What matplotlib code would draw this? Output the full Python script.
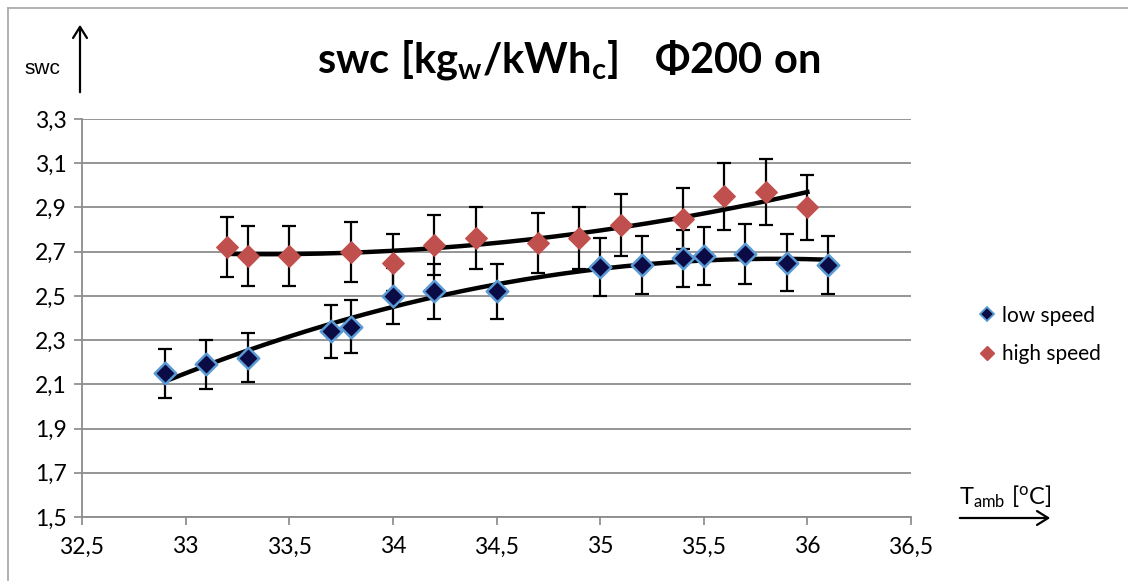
import numpy as np
import matplotlib
matplotlib.use("Agg")
import matplotlib.pyplot as plt
from matplotlib.lines import Line2D
from matplotlib.patches import FancyArrowPatch
from matplotlib.ticker import FuncFormatter

plt.rcParams['font.family'] = ['Lato', 'DejaVu Sans']
plt.rcParams['mathtext.fontset'] = 'custom'
plt.rcParams['mathtext.rm'] = 'Lato'
plt.rcParams['mathtext.it'] = 'Lato'
plt.rcParams['mathtext.bf'] = 'Lato:bold'

# measured points, T_amb [C] vs swc
t_low = [32.9, 33.1, 33.3, 33.7, 33.8, 34.0, 34.2, 34.5, 35.0, 35.2, 35.4, 35.5, 35.7, 35.9, 36.1]
swc_low = [2.15, 2.19, 2.22, 2.34, 2.36, 2.50, 2.52, 2.52, 2.63, 2.64, 2.67, 2.68, 2.69, 2.65, 2.64]
err_low = [0.11, 0.11, 0.11, 0.12, 0.12, 0.125, 0.125, 0.125, 0.13, 0.13, 0.13, 0.13, 0.135, 0.13, 0.13]

t_high = [33.2, 33.3, 33.5, 33.8, 34.0, 34.2, 34.4, 34.7, 34.9, 35.1, 35.4, 35.6, 35.8, 36.0]
swc_high = [2.72, 2.68, 2.68, 2.70, 2.65, 2.73, 2.76, 2.74, 2.76, 2.82, 2.85, 2.95, 2.97, 2.90]
err_high = [0.135, 0.135, 0.135, 0.135, 0.13, 0.135, 0.14, 0.135, 0.14, 0.14, 0.14, 0.15, 0.15, 0.145]

x_ticks = [32.5, 33, 33.5, 34, 34.5, 35, 35.5, 36, 36.5]
y_ticks = [1.5, 1.7, 1.9, 2.1, 2.3, 2.5, 2.7, 2.9, 3.1, 3.3]

low_fill, low_edge = '#0b0b45', '#5b9bd5'
high_fill = '#c0504d'

fig = plt.figure(figsize=(11.28, 5.81), dpi=100)
ax = fig.add_axes([82 / 1128, 1 - 517 / 581, (911 - 82) / 1128, (517 - 119) / 581])

# 2nd order polynomial trend lines
for t, s in [(t_low, swc_low), (t_high, swc_high)]:
    coef = np.polyfit(t, s, 2)
    xx = np.linspace(min(t), max(t), 200)
    ax.plot(xx, np.polyval(coef, xx), color='black', lw=3.2, zorder=2)

ax.errorbar(t_low, swc_low, yerr=err_low, fmt='none', ecolor='black',
            elinewidth=1.6, capsize=5, capthick=1.6, zorder=3)
ax.errorbar(t_high, swc_high, yerr=err_high, fmt='none', ecolor='black',
            elinewidth=1.6, capsize=5, capthick=1.6, zorder=3)
ax.scatter(t_low, swc_low, marker='D', s=120, c=low_fill, edgecolors=low_edge,
           linewidths=1.8, zorder=4)
ax.scatter(t_high, swc_high, marker='D', s=120, c=high_fill, edgecolors=high_fill,
           linewidths=1.0, zorder=4)

ax.set_xlim(32.5, 36.5)
ax.set_ylim(1.5, 3.3)
ax.set_xticks(x_ticks)
ax.set_yticks(y_ticks)
comma = FuncFormatter(lambda v, p: ('%g' % v).replace('.', ','))
ax.xaxis.set_major_formatter(comma)
ax.yaxis.set_major_formatter(comma)
ax.tick_params(axis='both', labelsize=16.5, color='#888888', length=6, width=1.2)
ax.tick_params(axis='x', pad=8)
ax.tick_params(axis='y', pad=5)
ax.grid(axis='y', color='#8c8c8c', lw=1.3)
ax.set_axisbelow(True)
for side in ['top', 'right']:
    ax.spines[side].set_visible(False)
for side in ['left', 'bottom']:
    ax.spines[side].set_color('#8c8c8c')
    ax.spines[side].set_linewidth(1.3)

fig.text(569 / 1128, 1 - 60 / 581,
         r'$\mathbf{swc\ [kg_w/kWh_c]\ \ \ \Phi200\ on}$',
         ha='center', va='center', fontsize=30)

# axis arrows with their names
fig.text(42 / 1128, 1 - 68 / 581, 'swc', family='Liberation Sans', fontsize=15,
         ha='center', va='center')
fig.patches.append(FancyArrowPatch(
    (80 / 1128, 1 - 95 / 581), (80 / 1128, 1 - 22 / 581), transform=fig.transFigure,
    arrowstyle='->,head_length=8,head_width=5', lw=1.6, color='black', mutation_scale=1))
fig.patches.append(FancyArrowPatch(
    (957 / 1128, 1 - 518 / 581), (1053 / 1128, 1 - 518 / 581), transform=fig.transFigure,
    arrowstyle='->,head_length=8,head_width=5', lw=1.6, color='black', mutation_scale=1))
fig.text(1005 / 1128, 1 - 497 / 581, r'$\mathrm{T_{amb}\ [^oC]}$', fontsize=17,
         ha='center', va='center')

# legend
handles = [
    Line2D([], [], ls='none', marker='D', ms=7, mfc=low_fill, mec=low_edge, mew=1.3),
    Line2D([], [], ls='none', marker='D', ms=7, mfc=high_fill, mec=high_fill),
]
fig.legend(handles, ['low speed', 'high speed'], loc='center left',
           bbox_to_anchor=(962 / 1128, 1 - 335 / 581), frameon=False, fontsize=15,
           handlelength=0.6, handletextpad=0.4, labelspacing=0.9)

# chart border
fig.add_artist(Line2D([8 / 1128, 8 / 1128], [0, 1 - 8 / 581], color='#a6a6a6', lw=1.2))
fig.add_artist(Line2D([8 / 1128, 1], [1 - 8 / 581, 1 - 8 / 581], color='#a6a6a6', lw=1.2))

fig.savefig('out.png', dpi=100)
